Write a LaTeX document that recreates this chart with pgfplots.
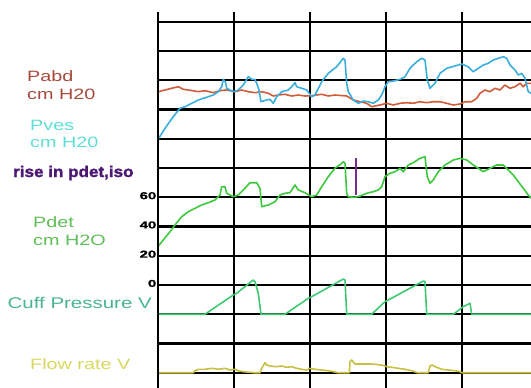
\documentclass[border=0pt]{standalone}
\usepackage{fontspec}
\setmainfont{Liberation Sans}
\newfontfamily\labfont{Liberation Sans}[FakeStretch=1.32]
\newfontfamily\risefont{Liberation Sans}[FakeStretch=1.1, FakeBold=1.6]
\newfontfamily\tickfont{Liberation Sans}[FakeStretch=1.5, FakeBold=1.5]
\usepackage{pgfplots}
\pgfplotsset{compat=1.18}
\definecolor{pabdline}{RGB}{208,92,58}
\definecolor{pabdtxt}{RGB}{166,74,58}
\definecolor{pvesline}{RGB}{58,174,220}
\definecolor{pvestxt}{RGB}{95,222,212}
\definecolor{pdetline}{RGB}{62,200,62}
\definecolor{pdettxt}{RGB}{95,190,85}
\definecolor{cuffline}{RGB}{64,200,115}
\definecolor{cufftxt}{RGB}{72,180,140}
\definecolor{flowline}{RGB}{200,192,64}
\definecolor{flowtxt}{RGB}{215,215,95}
\definecolor{risetxt}{RGB}{75,24,114}
\definecolor{riseline}{RGB}{123,42,142}
\begin{document}
\begin{tikzpicture}
\begin{axis}[
  scale only axis, width=373pt, height=376.3pt,
  xmin=158, xmax=531, ymin=11.7, ymax=388, y dir=reverse,
  axis line style={draw=none},
  xtick={234,310,386,462}, xticklabels={},
  ytick={21.7,50.95,80.2,109.45,138.7,167.95,197.2,226.45,255.7,284.95,314.2,343.45,372.7},
  yticklabels={,,,,,,60,40,20,0,,,},
  grid=major, grid style={black, line width=2.1pt},
  major tick length=0pt,
  yticklabel style={font=\tickfont\bfseries\fontsize{10}{11}\selectfont, yshift=1.5pt, inner sep=1.5pt},
  clip=false,
  every axis plot/.append style={line width=1.6pt, line join=round, mark=none},
]
% Pabd
\addplot[pabdline] coordinates {
(158.3,91.7)(165,90)(171.7,88.3)(178.3,86.7)(183.3,89.3)(188.3,90)(198.3,91.7)(205,90.7)(213.3,92.7)(220,90.7)(226.7,90)(235,91.7)(241.7,90)(248.3,91.7)(255,92.7)(261.7,91.7)(268.3,93.3)(273.3,96)(278.3,95)(285,94.3)(291.7,96)(298.3,95)(305,96)(311.7,95.7)(321.7,94.3)(328.3,96)(335,95)(346.7,96)(353.3,100)(360,101.7)(366.7,103.3)(371.7,106.7)(380,105)(386.7,103.3)(393.3,105)(400,103.3)(406.7,102.7)(413.3,103.3)(420,101.7)(426.7,102.7)(433.3,101.7)(440,101.7)(446.7,103.3)(453.3,105)(460,104)(465,101.7)(471.7,101.7)(476.7,98.3)(480,93.3)(485,90)(490,91.7)(495,88.3)(500,90)(505,85)(510,88.3)(515,86.7)(520,83.3)(523.3,86.7)(526.7,83.3)(531,83.3)};
% Pves
\addplot[pvesline] coordinates {
(158.3,139)(165,128.3)(173.3,116.7)(180,108.3)(185,106.7)(191.7,103.3)(198.3,100)(206.7,97.3)(213.3,95)(218.3,91.7)(221.7,86.7)(223.3,79.3)(225.7,82.7)(226.7,88.3)(233.3,91.7)(238.3,90)(243.3,85)(248.3,76.7)(251.7,79.3)(255,79.3)(256.7,83.3)(259,90)(261,101.7)(266.7,100)(270,99.3)(273.3,103.3)(276.7,96.7)(281.7,91.7)(288.3,90)(291.7,86.7)(295,82.7)(296.7,86.7)(301.7,88.3)(306.7,90)(311.7,96.7)(315,95)(321.7,81.7)(328.3,73.3)(336.7,66.7)(343.3,58.3)(345,60)(346.7,83.3)(348.3,91.7)(353.3,100)(358.3,103.3)(363.3,101)(368.3,101.7)(373.3,103.3)(378.3,100)(381.7,95)(385,86.7)(388.3,81.7)(395,80.7)(400,79.3)(405,76.7)(410,68.3)(416.7,61.7)(421.7,58.3)(425,60)(427.3,80)(430,88.3)(435,83.3)(440,73.3)(446.7,68.3)(455,66)(461.7,64)(468.3,66.7)(473.3,71.7)(478.3,68.3)(483.3,65)(488.3,63.3)(493.3,60)(498.3,58.3)(503.3,56.7)(506.7,58.3)(510,65)(515,70)(518.3,75)(521.7,73.3)(525,78.3)(528.3,91.7)(531,93.3)};
% Pdet
\addplot[pdetline] coordinates {
(158.3,246)(163.3,240)(170,231.7)(175,225)(181.7,216.7)(188.3,211.7)(195,208.3)(201.7,205)(208.3,202.7)(215,200)(220,195)(221.7,186.7)(225,186.7)(226.7,193.3)(233.3,196.7)(238.3,195)(243.3,190)(250,182.7)(256.7,182.7)(260,188.3)(261.7,206.7)(268.3,205)(275,201.7)(280,195)(285,193.3)(290,192.7)(295,185)(298.3,190)(305,192.7)(311.7,196.7)(316.7,195)(321.7,186.7)(328.3,176.7)(335,168.3)(341.7,163.3)(343.3,161.7)(345,163.3)(346.7,193.3)(348.3,196.7)(355,197.3)(360,196)(366.7,193.3)(373.3,191.7)(378.3,190)(381.7,186.7)(385,176.7)(390,173.3)(395,171.7)(400,168.3)(403.3,171.7)(408.3,165)(413.3,162.7)(420,158.3)(425,156.7)(427.3,176.7)(430,183.3)(433.3,180)(438.3,171.7)(445,165)(453.3,160)(460,158.3)(466.7,160)(473.3,165)(478.3,168.3)(483.3,171.7)(490,168.3)(496.7,165)(503.3,165)(508.3,170)(513.3,175)(518.3,181.7)(523.3,188.3)(528.3,195)(531,198.3)};
% rise marker
\addplot[riseline, line width=2.2pt] coordinates {(355.7,158.3)(355.7,195)};
% Cuff pressure
\addplot[cuffline] coordinates {
(158,314.2)(205,314.2)(233.3,295)(236.7,293.3)(253.3,280)(255,281.7)(258.3,293.3)(261,314.2)(285,314.2)(308.3,298.3)(311.7,296.7)(343.3,279)(345,280)(346.7,314.2)(371.7,314.2)(385,301.7)(388.3,300)(423.3,281)(425,281.7)(426.7,314.2)(453.3,314.2)(456.7,311.7)(463.3,306.7)(470,303.3)(471.7,314.2)(531,314.2)};
% Flow rate
\addplot[flowline] coordinates {
(158,372.7)(193.3,372.7)(195,370.7)(198.3,369.3)(205,369.3)(211.7,368.3)(218.3,369.3)(225,368.3)(230,370)(235,369.3)(238.3,370.7)(243.3,371.7)(251.7,372.5)(253.3,372.7)(260,372.7)(261.7,368.3)(265,362.7)(266.7,365)(270,366)(276.7,366.7)(281.7,366)(286.7,367.3)(291.7,366.7)(296.7,368.3)(301.7,369.3)(306.7,370)(310,368.3)(315,369.3)(321.7,370)(328.3,370.7)(335,372)(337.7,372.7)(349.3,372.7)(350,361.7)(351.7,360)(355,364)(361.7,364)(371.7,364)(381.7,365)(386.7,366.7)(391.7,367.3)(398.3,368.3)(405,369.3)(411.7,370.7)(416.7,372.5)(417.7,372.7)(428.3,372.7)(430,366)(431.7,365)(436.7,367.3)(441.7,369.3)(448.3,370)(455,370.7)(460,371.7)(461.7,372.7)(531,372.7)};
\draw[black, line width=2.8pt] (axis cs:158,11.7) -- (axis cs:158,388);
% labels
\node[anchor=base west, inner sep=0, text=pabdtxt, font=\labfont\fontsize{15}{18}\selectfont] at (axis cs:27,82) {Pabd};
\node[anchor=base west, inner sep=0, text=pabdtxt, font=\labfont\fontsize{15}{18}\selectfont] at (axis cs:27,100) {cm H20};
\node[anchor=base west, inner sep=0, text=pvestxt, font=\labfont\fontsize{15}{18}\selectfont] at (axis cs:30,130) {Pves};
\node[anchor=base west, inner sep=0, text=pvestxt, font=\labfont\fontsize{15}{18}\selectfont] at (axis cs:30,147.5) {cm H20};
\node[anchor=base west, inner sep=0, text=risetxt, font=\risefont\bfseries\fontsize{15.5}{18}\selectfont] at (axis cs:13,177) {rise in pdet,iso};
\node[anchor=base west, inner sep=0, text=pdettxt, font=\labfont\fontsize{15}{18}\selectfont] at (axis cs:33,227.3) {Pdet};
\node[anchor=base west, inner sep=0, text=pdettxt, font=\labfont\fontsize{15}{18}\selectfont] at (axis cs:33,245) {cm H2O};
\node[anchor=base west, inner sep=0, text=cufftxt, font=\labfont\fontsize{15.5}{18}\selectfont] at (axis cs:7.5,308.3) {Cuff Pressure V};
\node[anchor=base west, inner sep=0, text=flowtxt, font=\labfont\fontsize{15}{18}\selectfont] at (axis cs:30,369.5) {Flow rate V};
\coordinate (BL) at (axis cs:0,388);
\coordinate (TR) at (axis cs:531,0);
\end{axis}
\pgfresetboundingbox
\path (BL) rectangle (TR);
\end{tikzpicture}
\end{document}
